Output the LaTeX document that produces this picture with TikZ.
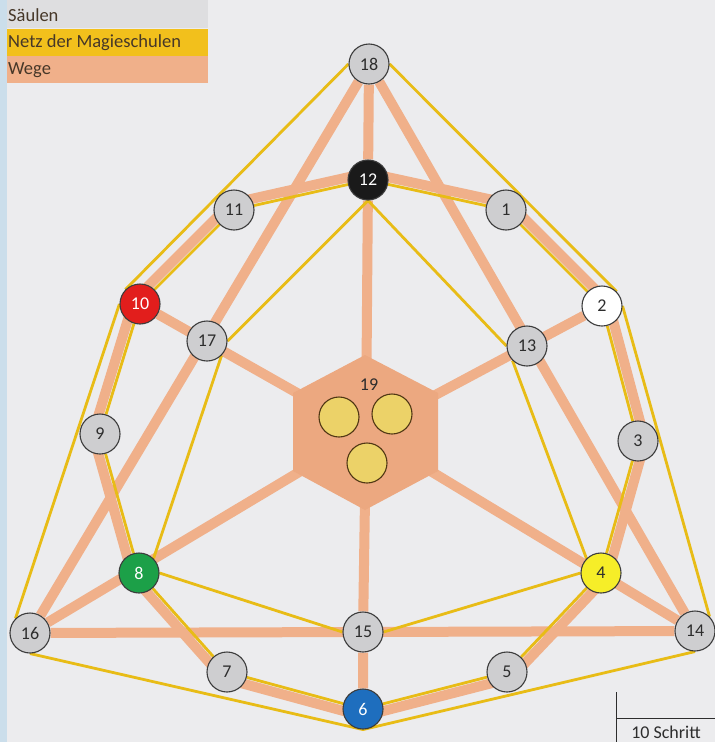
\documentclass[tikz,border=0pt]{standalone}
\usepackage{fontspec}
\setmainfont{Carlito}
\usetikzlibrary{calc}
\definecolor{bgc}{RGB}{236,236,238}
\definecolor{stripc}{RGB}{203,222,235}
\definecolor{peach}{RGB}{240,176,138}
\definecolor{hexc}{RGB}{236,168,128}
\definecolor{gold}{RGB}{232,188,22}
\definecolor{legold}{RGB}{242,192,28}
\definecolor{legray}{RGB}{222,222,224}
\definecolor{pgray}{RGB}{206,206,208}
\definecolor{pborder}{RGB}{60,60,60}
\definecolor{txt}{RGB}{45,45,45}
\definecolor{legtxt}{RGB}{70,55,40}
\definecolor{pblack}{RGB}{26,26,26}
\definecolor{pred}{RGB}{226,30,28}
\definecolor{pgreen}{RGB}{28,160,72}
\definecolor{pblue}{RGB}{30,110,190}
\definecolor{pyellow}{RGB}{246,238,40}
\definecolor{innerc}{RGB}{236,210,104}
\definecolor{innerb}{RGB}{80,55,20}
\pgfdeclarelayer{bgl}
\pgfdeclarelayer{peachl}
\pgfdeclarelayer{yell}
\pgfsetlayers{bgl,peachl,yell,main}
\tikzset{
  pillar/.style={circle, draw=pborder, line width=1.1pt, minimum size=40pt, inner sep=0pt,
    fill=pgray, text=txt, font=\fontsize{18}{18}\selectfont},
  darkpillar/.style={pillar, text=white},
  inner/.style={circle, draw=innerb, line width=1.1pt, minimum size=40pt, inner sep=0pt, fill=innerc},
  wege/.style={draw=peach, line width=10pt},
  netz/.style={draw=gold, line width=2.8pt},
  legrow/.style={anchor=west, inner sep=0pt, text=legtxt, font=\fontsize{18.5}{18.5}\selectfont},
}
\newcommand\ringpeach[2]{\draw[wege] ($(#1)!7pt!-90:(#2)$) -- ($(#2)!7pt!90:(#1)$);}
\begin{document}
\begin{tikzpicture}[x=1pt,y=-1pt]
\useasboundingbox (0,0) rectangle (715,742);
% nodes
\node[pillar] (n18) at (369,64) {18};
\node[darkpillar, fill=pblack] (n12) at (368,180) {12};
\node[pillar] (n11) at (234,210) {11};
\node[pillar] (n1) at (506,210) {1};
\node[darkpillar, fill=pred] (n10) at (140,304) {10};
\node[pillar, fill=white] (n2) at (602,306) {2};
\node[pillar] (n17) at (207,341) {17};
\node[pillar] (n13) at (527,346) {13};
\node[pillar] (n9) at (100,434) {9};
\node[pillar] (n3) at (638,441) {3};
\node[darkpillar, fill=pgreen] (n8) at (139,573) {8};
\node[pillar, fill=pyellow] (n4) at (601,573) {4};
\node[pillar] (n16) at (30,633) {16};
\node[pillar] (n15) at (363,632) {15};
\node[pillar] (n14) at (695,631) {14};
\node[pillar] (n7) at (227,672) {7};
\node[pillar] (n5) at (507,672) {5};
\node[darkpillar, fill=pblue] (n6) at (363,709) {6};
% centre 19
\coordinate (n19) at (366,432);
\fill[hexc] (365,355) -- (438,393) -- (438,471) -- (365,510) -- (293,471) -- (293,393) -- cycle;
\node[inner] (c1) at (339,417) {};
\node[inner] (c2) at (392,414) {};
\node[inner] (c3) at (367,463) {};
\node[text=txt, font=\fontsize{18}{18}\selectfont] (l19) at (369,385) {19};
% legend and frame
\begin{pgfonlayer}{bgl}
\fill[bgc] (0,0) rectangle (715,742);
\fill[stripc] (0,0) rectangle (7,742);
\fill[legray] (7,0) rectangle (208,28);
\fill[legold] (7,29) rectangle (208,56);
\fill[peach] (7,56) rectangle (208,83);
\end{pgfonlayer}
\node[legrow] (lg1) at (8,15) {Säulen};
\node[legrow] (lg2) at (8,43) {Netz der Magieschulen};
\node[legrow] (lg3) at (8,70) {Wege};
% scale bar
\coordinate (s1) at (616,692);
\coordinate (s2) at (616,742);
\coordinate (s3) at (616,718);
\coordinate (s4) at (715,718);
\draw[line width=0.9pt, draw=txt] (s1) -- (s2) (s3) -- (s4);
\node[text=txt, font=\fontsize{18}{18}\selectfont] (sc) at (666,732) {10 Schritt};
% Wege
\begin{pgfonlayer}{peachl}
\draw[wege] (n18) -- (n16) (n18) -- (n14) (n18) -- (n12) (n12) -- (n19);
\draw[wege] (n10) -- (n19) (n2) -- (n19);
\draw[wege] (n16) -- (n19) (n14) -- (n19) (n15) -- (n19);
\draw[wege] (n16) -- (n14) (n15) -- (n6);
\ringpeach{n12}{n11}\ringpeach{n11}{n10}\ringpeach{n10}{n9}\ringpeach{n9}{n8}
\ringpeach{n8}{n7}\ringpeach{n7}{n6}\ringpeach{n6}{n5}\ringpeach{n5}{n4}
\ringpeach{n4}{n3}\ringpeach{n3}{n2}\ringpeach{n2}{n1}\ringpeach{n1}{n12}
\end{pgfonlayer}
% Netz
\begin{pgfonlayer}{yell}
\draw[netz] (n18.west) -- (n10.north west) (n10.west) -- (n16.north west)
  (n16.south) -- (n6.south) -- (n14.south)
  (n14.north east) -- (n2.east) (n2.north east) -- (n18.east);
\draw[netz] (n12) -- (n11) -- (n10) -- (n9) -- (n8) -- (n7) -- (n6)
  -- (n5) -- (n4) -- (n3) -- (n2) -- (n1) -- (n12);
\draw[netz] (n12.south) -- (n17.east) (n17.south east) -- (n8.north east)
  (n12.south) -- (n13.west) (n13.south west) -- (n4.north west)
  (n8.east) -- (n15.west) (n15.east) -- (n4.west);
\end{pgfonlayer}
\end{tikzpicture}
\end{document}
